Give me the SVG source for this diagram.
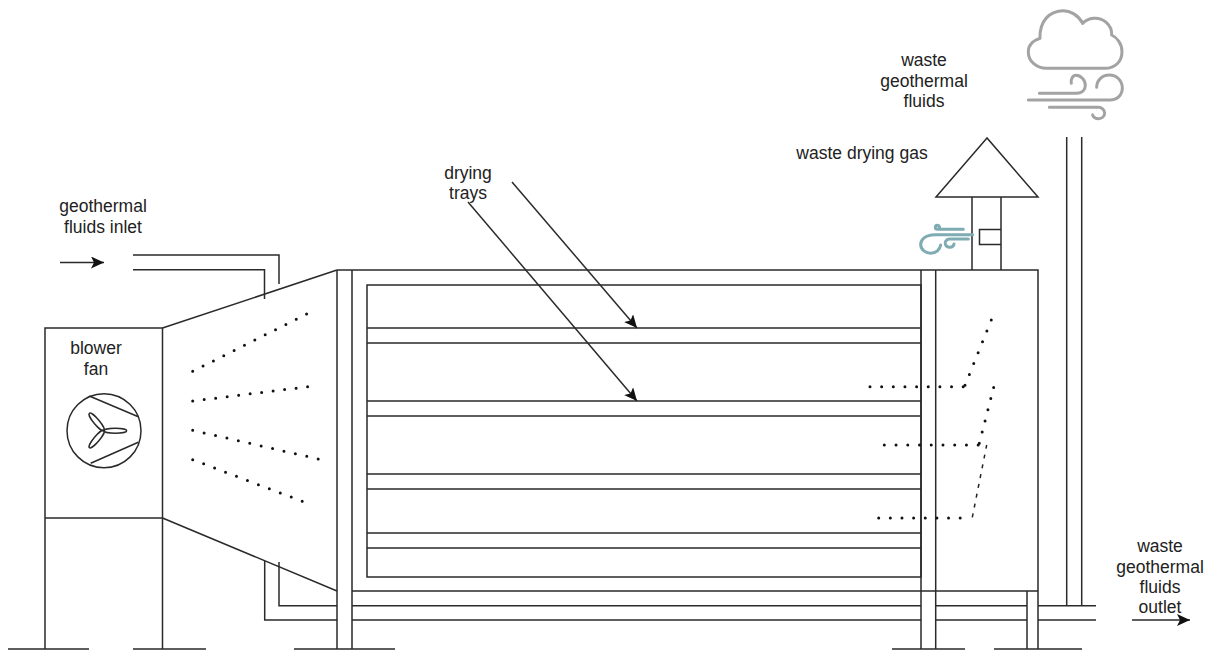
<svg xmlns="http://www.w3.org/2000/svg" width="1212" height="650" viewBox="0 0 1212 650">
<style>
.l{fill:none;stroke:#2a2a2a;stroke-width:1.5}
.d{fill:none;stroke:#111;stroke-width:3;stroke-linecap:round;stroke-dasharray:0 1}
.dd{fill:none;stroke:#222;stroke-width:1.5;stroke-dasharray:4 6}
.t{font-family:"Liberation Sans",Arial,sans-serif;font-size:17.5px;fill:#222;text-anchor:middle}
.g{fill:none;stroke:#a3a3a3;stroke-width:9;stroke-linecap:round;stroke-linejoin:round}
.b{fill:none;stroke:#7fabb3;stroke-width:9;stroke-linecap:round;stroke-linejoin:round}
</style>
<defs>
<marker id="a" markerUnits="userSpaceOnUse" markerWidth="14" markerHeight="12" refX="13" refY="6" orient="auto"><path d="M0,0 L13,6 L0,12 L3,6 Z" fill="#111"/></marker>
</defs>
<rect width="1212" height="650" fill="#fff"/>
<g id="blower-fan">
<path class="l" d="M45,649V328H162.5V649M45,518H162.5"/>
<circle class="l" cx="104" cy="430.7" r="37"/>
<path class="l" d="M89.3,396L138.3,416.7M90.7,463.3L138.3,442.3"/>
<ellipse class="l" cx="115.3" cy="430.7" rx="11.4" ry="2.5"/>
<ellipse class="l" cx="96.7" cy="422" rx="11.4" ry="2.8" transform="rotate(50 96.7 422)"/>
<ellipse class="l" cx="96.7" cy="439" rx="11.4" ry="2.8" transform="rotate(-50 96.7 439)"/>
<text class="t" x="96" y="354">blower</text>
<text class="t" x="96" y="375">fan</text>
</g>
<g id="duct">
<path class="l" d="M162.5,328L337,270M162.5,518L337,591"/>
<path class="d" pathLength="11.01" d="M192.7,371.3L306.7,314"/>
<path class="d" pathLength="10.01" d="M192.7,401L307.7,386.7"/>
<path class="d" pathLength="11.01" d="M192.7,430.3L318.3,459"/>
<path class="d" pathLength="10.01" d="M192.7,459.7L302.3,501.3"/>
</g>
<g id="dryer">
<path class="l" d="M337,270V649M352,270V649M921,270V649M935.7,270V649M337,270H1038V591M352,591H1038"/>
<rect class="l" x="367" y="285" width="554" height="292"/>
<path class="l" d="M367,328H921M367,343H921M367,401H921M367,416H921M367,474H921M367,489H921M367,533H921M367,548H921"/>
<path class="d" pathLength="8.01" d="M870,386.7H963.3"/>
<path class="d" pathLength="6.01" d="M965,385.3L991.3,320"/>
<path class="d" pathLength="8.01" d="M884.3,445H978.3"/>
<path class="d" pathLength="5.01" d="M979.3,443.3L993.7,387.3"/>
<path class="d" pathLength="7.01" d="M878.7,518H960.3"/>
<path class="dd" d="M972.3,517.3L986.7,445"/>
</g>
<g id="chimney">
<path class="l" d="M987,138L936,197H1038ZM972,197V270M1001,197V270M1001,229.5H979.5V244.5H1001"/>
<g transform="translate(900 0) scale(.3333)">
<path class="b" d="M218,704H105C75,704 62,720 62,733C62,750 78,760 92,760C108,760 120,748 122,735M205,717H150C138,717 134,726 136,733C140,745 160,745 162,732M190,688H112C104,688 104,676 112,676C118,676 120,682 118,686"/>
</g>
</g>
<g id="cloud">
<g transform="translate(900 0) scale(.3333)">
<path class="g" d="M440,205H615C645,205 666,185 666,155C666,130 650,112 635,105C637,75 610,52 580,55C568,56 556,62 548,70C535,45 510,32 490,32C450,32 418,62 420,115C398,122 385,135 385,155C385,185 410,205 440,205Z"/>
<path class="g" d="M418,280H530C548,280 556,268 556,256C556,240 542,226 528,226C518,226 512,238 514,250M385,300H630C652,300 667,285 667,264C667,242 650,225 628,225C606,225 590,242 590,262M448,322H595C606,322 614,330 614,339C614,350 605,356 596,356C586,356 578,350 578,344"/>
</g>
</g>
<g id="outlet-pipe">
<path class="l" d="M1066.7,137V605.7M1081.7,137V605.7"/>
<path class="l" d="M1027,591V649M1038,591V649"/>
</g>
<g id="ground">
<path class="l" d="M8,649H89M133,649H206M294,649H395M892,649H965M994,649H1082"/>
</g>
<g id="connectors">
<path class="l" d="M133,255H279V284M133,269.7H264.5V299"/>
<path class="l" d="M264.7,561V620H337M279,562V605.7H337M352,605.7H921M352,620H921M935.7,605.7H1027M935.7,620H1027M1038,605.7H1096M1038,620H1096"/>
<path class="l" marker-end="url(#a)" d="M60,262.5H104"/>
<path class="l" marker-end="url(#a)" d="M1132,620H1190"/>
<path class="l" marker-end="url(#a)" d="M512,182L637,328"/>
<path class="l" marker-end="url(#a)" d="M468,202L637,401"/>
</g>
<g id="labels">
<text class="t" x="103" y="212">geothermal</text>
<text class="t" x="103" y="233">fluids inlet</text>
<text class="t" x="468" y="179">drying</text>
<text class="t" x="468" y="199">trays</text>
<text class="t" x="862" y="159">waste drying gas</text>
<text class="t" x="924" y="66">waste</text>
<text class="t" x="924" y="87">geothermal</text>
<text class="t" x="924" y="107">fluids</text>
<text class="t" x="1160" y="552">waste</text>
<text class="t" x="1160" y="573">geothermal</text>
<text class="t" x="1160" y="593">fluids</text>
<text class="t" x="1160" y="613">outlet</text>
</g>
</svg>
